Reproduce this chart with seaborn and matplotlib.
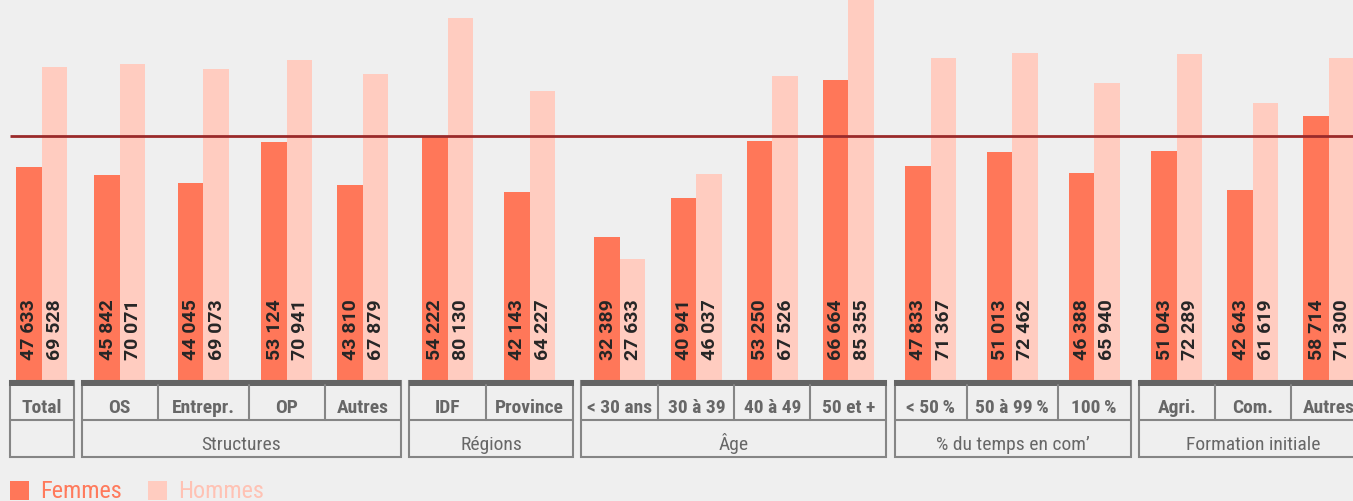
import numpy as np
import pandas as pd
import matplotlib
matplotlib.use("Agg")
import matplotlib.pyplot as plt
from matplotlib.patches import Rectangle
from matplotlib import font_manager as fm
import seaborn as sns

# ---------------- data ----------------
categories = ["Total", "OS", "Entrepr.", "OP", "Autres", "IDF", "Province",
              "< 30 ans", "30 à 39", "40 à 49", "50 et +",
              "< 50\u2009%", "50 à 99\u2009%", "100\u2009%",
              "Agri.", "Com.", "Autres"]
group_names = ["", "Structures", "Régions", "Âge", "% du temps en com’", "Formation initiale"]
group_sizes = [1, 4, 2, 4, 3, 3]
femmes = [47633, 45842, 44045, 53124, 43810, 54222, 42143, 32389, 40941, 53250, 66664,
          47833, 51013, 46388, 51043, 42643, 58714]
hommes = [69528, 70071, 69073, 70941, 67879, 80130, 64227, 27633, 46037, 67526, 85355,
          71367, 72462, 65940, 72289, 61619, 71300]
series = ["Femmes", "Hommes"]
reference_value = 54500

# ---------------- layout ----------------
W, H = 1353, 502
cell_w = [64, 76, 91, 76, 76, 77, 87, 77, 76, 76, 76, 72, 91, 73, 76, 76, 76]
gap = 8.3
x_start = 9.5
base_px = 386.5          # pixel row of the value 0
px_per_unit = 0.004587   # vertical scale
pair_w = 51              # width of a Femmes+Hommes pair in pixels

BG = "#EFEFEF"
C_F = "#FF7759"
C_H = "#FFCCC0"
GRID = "#858585"
BAND = "#646464"
TXT = "#676767"

sns.set_theme(style="white")
names = {f.name for f in fm.fontManager.ttflist}
cond_font = "Roboto Condensed" if "Roboto Condensed" in names else "Roboto"
plt.rcParams["font.family"] = [cond_font, "DejaVu Sans"]
value_family = ["Roboto", "DejaVu Sans"]

# cell edges
edges = []
x = x_start
k = 0
group_bounds = []
for gi, n in enumerate(group_sizes):
    if gi > 0:
        x += gap
    g0 = x
    for _ in range(n):
        edges.append((x, x + cell_w[k]))
        x += cell_w[k]
        k += 1
    group_bounds.append((g0, x, k - n, k))
centers = [(a + b) / 2 for a, b in edges]

df = pd.DataFrame({
    "pos": centers + centers,
    "valeur": femmes + hommes,
    "sexe": [series[0]] * len(femmes) + [series[1]] * len(hommes),
})

fig = plt.figure(figsize=(W / 100, H / 100), dpi=100, facecolor=BG)
ax = fig.add_axes([0, (H - base_px) / H, 1, base_px / H])
ax.set_facecolor(BG)
min_step = float(np.min(np.diff(np.sort(centers))))
sns.barplot(data=df, x="pos", y="valeur", hue="sexe", hue_order=series,
            palette=[C_F, C_H], native_scale=True, width=pair_w / min_step,
            saturation=1, errorbar=None, linewidth=0, legend=False, ax=ax)
ax.set_xlim(0, W)
ax.set_ylim(0, base_px / px_per_unit)
ax.axis("off")

ax.hlines(reference_value, 10, W, color="#9A2A2A", lw=2.0, zorder=6)

for cont in ax.containers:
    for bar in cont:
        v = int(round(bar.get_height()))
        ax.annotate(f"{v:,}".replace(",", " "),
                    xy=(bar.get_x() + bar.get_width() / 2, 0),
                    xytext=(0.5, 26.5), textcoords="offset pixels",
                    rotation=90, ha="center", va="bottom",
                    fontsize=14, fontweight="bold", color="#262626",
                    family=value_family, zorder=7)

# ---------------- table below ----------------
tax = fig.add_axes([0, 0, 1, (H - 381) / H])
tax.set_xlim(0, W)
tax.set_ylim(H, 381)
tax.axis("off")

lw = 1.5
for (g0, g1, i0, i1), gname in zip(group_bounds, group_names):
    tax.add_patch(Rectangle((g0, 381.5), g1 - g0, 458 - 381.5, fill=False,
                            edgecolor=GRID, lw=lw, clip_on=False))
    tax.add_patch(Rectangle((g0 - 0.5, 381), g1 - g0 + 1, 5.5, color=BAND, lw=0))
    tax.plot([g0, g1], [421, 421], color=GRID, lw=lw)
    for i in range(i0, i1):
        if i > i0:
            tax.plot([edges[i][0]] * 2, [386, 421], color=GRID, lw=lw)
        tax.text(centers[i], 413.5, categories[i], ha="center", va="baseline",
                 fontsize=14, fontweight="bold", color=TXT)
    if gname:
        tax.text((g0 + g1) / 2, 450, gname, ha="center", va="baseline",
                 fontsize=14, color=TXT)

# legend
tax.add_patch(Rectangle((10, 482), 19, 19, color=C_F, lw=0, clip_on=False))
tax.text(40, 498.5, series[0], ha="left", va="baseline", fontsize=17.5, color="#FF7A5C")
tax.add_patch(Rectangle((148, 482), 19, 19, color=C_H, lw=0, clip_on=False))
tax.text(178, 498.5, series[1], ha="left", va="baseline", fontsize=17.5, color="#FFC2B4")

fig.savefig("out.png", dpi=100, facecolor=BG)
